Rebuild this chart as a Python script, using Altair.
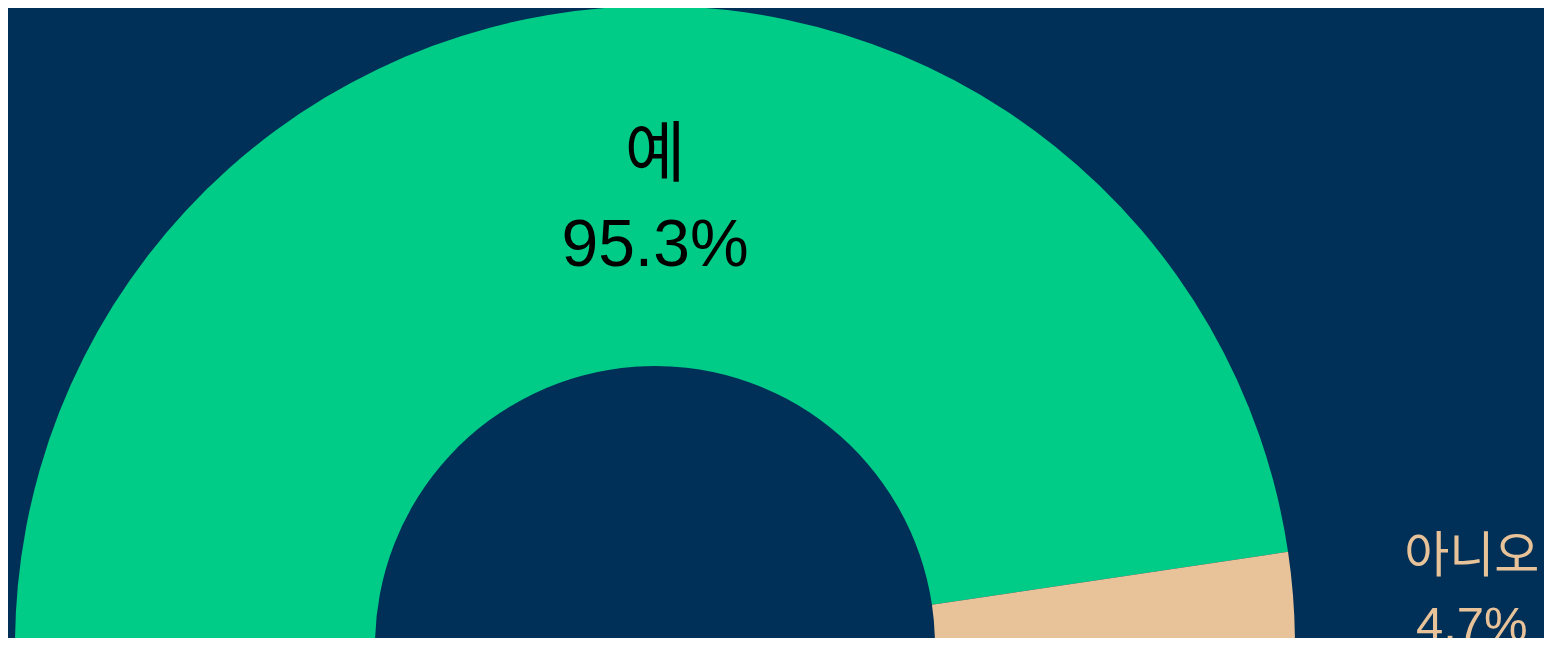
import math
import altair as alt
import pandas as pd

categories = ["예", "아니오"]
values = [95.3, 4.7]
colors = ["#00CC88", "#E8C298"]

df = pd.DataFrame({"category": categories, "value": values})

FONT = "Liberation Sans, Noto Sans CJK KR"
CX, CY = 647, 638

theta_scale = alt.Scale(domain=[0, 100], range=[-math.pi / 2, math.pi / 2])
color_scale = alt.Scale(domain=categories, range=colors)

base = alt.Chart(df).transform_window(idx="row_number()")

arcs = base.mark_arc(radius=640, radius2=280, stroke=None).encode(
    theta=alt.Theta("value:Q", stack=True, scale=theta_scale),
    color=alt.Color("category:N", scale=color_scale, legend=None),
    order=alt.Order("idx:Q"),
    x=alt.value(CX),
    y=alt.value(CY),
)

labels_base = base.transform_stack(
    stack="value", groupby=[], as_=["v0", "v1"], sort=[alt.SortField("idx", order="ascending")]
).transform_calculate(
    mid="datum.value > 50 ? 50 : (datum.v0 + datum.v1) / 2",
    label="datum.category + '\\n' + format(datum.value, '.1f') + '%'",
)

big = labels_base.transform_filter("datum.value > 50").mark_text(
    radius=450, fontSize=66, font=FONT, color="#000000", lineBreak="\n",
    lineHeight=90, align="center", baseline="middle", dy=-40,
).encode(
    theta=alt.Theta("mid:Q", scale=theta_scale),
    text="label:N",
    x=alt.value(CX),
    y=alt.value(CY),
)

small = labels_base.transform_filter("datum.value <= 50").mark_text(
    radius=819, fontSize=49, font=FONT, lineBreak="\n",
    lineHeight=69, align="center", baseline="middle", dy=-29,
).encode(
    theta=alt.Theta("mid:Q", scale=theta_scale),
    text="label:N",
    color=alt.Color("category:N", scale=color_scale, legend=None),
    x=alt.value(CX),
    y=alt.value(CY),
)

chart = alt.layer(arcs, big, small).properties(
    width=1536, height=630, background="#003057", padding=0,
    autosize=alt.AutoSizeParams(type="none"),
).configure_view(stroke=None)

chart.save("out.html", embed_options={"renderer": "svg", "actions": False})
